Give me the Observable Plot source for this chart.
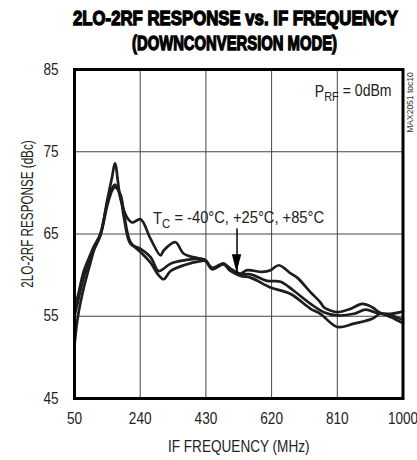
<!DOCTYPE html>
<html>
<head>
<meta charset="utf-8">
<script src="https://cdn.jsdelivr.net/npm/d3@7"></script>
<script src="https://cdn.jsdelivr.net/npm/@observablehq/plot@0.6"></script>
<style>
  html, body { margin: 0; padding: 0; background: #fff; }
  body { width: 417px; height: 460px; overflow: hidden; font-family: "Liberation Sans", Arial, sans-serif; }
  #title { position: relative; height: 50px; font-family: "Liberation Sans", Arial, sans-serif; font-weight: bold;
    font-size: 20px; color: #000; -webkit-text-stroke: 1.3px #000; }
  #title span { position: absolute; white-space: nowrap; transform-origin: 0 0; line-height: 20px; }
  #chart svg { display: block; }
</style>
</head>
<body>
<div id="title"><span id="t1">2LO-2RF RESPONSE vs. IF FREQUENCY</span><span id="t2">(DOWNCONVERSION MODE)</span></div>
<div id="chart"></div>
<script>
// ---- data ----
const xTicks = [50, 240, 430, 620, 810, 1000];
const yTicks = [45, 55, 65, 75, 85];

// upper curve (highest peak)
const freqA = [50, 60, 77, 96, 106, 125, 145, 159, 167, 183, 202, 217, 241, 270, 299, 308, 342, 366, 414, 429, 448, 481, 501, 530, 549, 593, 617, 641, 675, 694, 733, 761, 771, 790, 810, 848, 882, 911, 935, 964, 993, 1000];
const respA = [56, 57.5, 60.5, 62.5, 63.5, 65, 69.2, 72, 73.6, 69.3, 67, 66.4, 66.8, 64.4, 62.4, 63, 64, 62.6, 62, 61.8, 60.9, 61.4, 60.8, 60.2, 60.6, 60.4, 60.6, 61.2, 60.2, 59.7, 57.9, 56.7, 56.1, 55.7, 55.5, 55.9, 56.5, 56.1, 55.4, 55.3, 55.5, 55.6];

// middle curve
const freqB = [50, 60, 77, 96, 106, 125, 145, 159, 167, 183, 193, 212, 241, 270, 293, 308, 328, 366, 414, 429, 448, 481, 501, 530, 559, 607, 646, 684, 733, 771, 810, 858, 892, 925, 964, 993, 1000];
const respB = [55, 56.8, 59.8, 62, 63.3, 65, 68.8, 70.6, 71, 69.5, 67, 63.8, 63.2, 62.2, 60.5, 60.8, 61.4, 61.8, 62, 61.8, 60.8, 61.4, 60.6, 60.1, 60.1, 59.3, 59.2, 58.1, 56.5, 55.5, 55.1, 55.3, 55.8, 55.4, 55.1, 54.7, 54.6];

// lowest curve
const freqC = [50, 60, 77, 96, 106, 125, 145, 159, 167, 183, 193, 212, 241, 270, 293, 308, 328, 366, 414, 429, 448, 481, 501, 530, 559, 617, 675, 733, 761, 810, 858, 911, 935, 964, 993, 1000];
const respC = [51.5, 55, 58.5, 61.5, 63, 64.8, 68.5, 70.3, 70.7, 69.8, 67.5, 64, 62.8, 61.5, 60, 59.5, 60.5, 61.2, 61.7, 61.7, 60.7, 61.3, 60.5, 59.9, 59.7, 58.5, 57.7, 55.9, 55.3, 53.7, 54.1, 54.7, 55.3, 54.9, 54.3, 54.2];

const seriesNames = ["A", "B", "C"];
const rows = [];
[[freqA, respA], [freqB, respB], [freqC, respC]].forEach(([fs, rs], i) => {
  fs.forEach((f, j) => rows.push({series: seriesNames[i], f, r: rs[j]}));
});

// ---- title layout: condense each line to the reference width ----
function fitLine(id, left, right, top) {
  const el = document.getElementById(id);
  const w = el.getBoundingClientRect().width;
  const s = (right - left) / w;
  el.style.left = left + "px";
  el.style.top = top + "px";
  el.style.transform = `scale(${s}, 1)`;
}
fitLine("t1", 72.5, 397.5, 8);
fitLine("t2", 132, 337, 33);

const font = '"Liberation Sans", Arial, sans-serif';

const plot = Plot.plot({
  width: 417,
  height: 410,
  marginTop: 19,
  marginBottom: 62,
  marginLeft: 74,
  marginRight: 14.5,
  style: {fontFamily: font, fontSize: "16px", color: "#222", background: "#fff"},
  x: {domain: [50, 1000], ticks: xTicks, label: null},
  y: {domain: [45, 85], ticks: yTicks, label: null},
  marks: [
    Plot.gridX(xTicks, {stroke: "#444", strokeOpacity: 1, strokeWidth: 1}),
    Plot.gridY(yTicks, {stroke: "#444", strokeOpacity: 1, strokeWidth: 1}),
    Plot.axisX(xTicks, {tickSize: 0, tickPadding: 14, fontSize: 16, fill: "#222", tickFormat: d => String(d)}),
    Plot.axisY(yTicks, {tickSize: 0, tickPadding: 16, fontSize: 16, fill: "#222", tickFormat: d => String(d)}),
    Plot.line(rows, {x: "f", y: "r", z: "series", stroke: "#1e1e1e", strokeWidth: 2.7, curve: "catmull-rom"}),
    Plot.frame({stroke: "#000", strokeWidth: 3}),
    // annotations
    Plot.text(["P_RF = 0dBm"], {x: 967, y: 82.3, text: d => d, textAnchor: "end", fontSize: 16, fill: "#222"}),
    Plot.text(["T_C = -40°C, +25°C, +85°C"], {x: 277, y: 66.8, text: d => d, textAnchor: "start", fontSize: 16, fill: "#222"}),
    Plot.arrow([{x1: 520, y1: 65.6, x2: 520, y2: 60.3}], {x1: "x1", y1: "y1", x2: "x2", y2: "y2", stroke: "#000", strokeWidth: 1.5, headLength: 0, inset: 0}),
    Plot.text(["IF FREQUENCY (MHz)"], {frameAnchor: "bottom", dy: 48, textAnchor: "middle", lineAnchor: "middle", text: d => d, fontSize: 16, fill: "#222"}),
    Plot.text(["2LO-2RF RESPONSE (dBc)"], {frameAnchor: "left", dx: -47, dy: -20, rotate: -90, textAnchor: "middle", lineAnchor: "middle", text: d => d, fontSize: 16, fill: "#222"}),
    Plot.text(["MAX2051 toc10"], {frameAnchor: "top-right", dx: 7, dy: 33, rotate: -90, textAnchor: "middle", lineAnchor: "middle", text: d => d, fontSize: 9.5, fill: "#333"})
  ]
});
document.getElementById("chart").appendChild(plot);

const svg = d3.select(plot);
// subscripts
svg.selectAll("text").each(function() {
  const txt = this.textContent;
  const m = /^([A-Z])_([A-Z]+)(.*)$/.exec(txt);
  if (m) {
    const tgt = this.querySelector("tspan") ? d3.select(this.querySelector("tspan")) : d3.select(this);
    tgt.text(null);
    tgt.append("tspan").text(m[1]);
    tgt.append("tspan").attr("dy", "0.3em").attr("font-size", "12.5px").text(m[2]);
    tgt.append("tspan").attr("dy", "-0.3em").text(m[3]);
  }
});
// condense all chart text (narrow sans look), keeping each text's anchor fixed
function condenseFactor(t) {
  if (t.startsWith("MAX")) return 0.9;
  if (t.startsWith("2LO")) return 0.73;
  if (t.startsWith("TC")) return 0.92;
  if (t.startsWith("PRF")) return 0.88;
  return 0.85;
}
svg.selectAll("text").each(function() {
  const s = condenseFactor(this.textContent);
  const bb = this.getBBox();
  const anchor = getComputedStyle(this).textAnchor;
  const ax = anchor === "middle" ? bb.x + bb.width / 2 : anchor === "end" ? bb.x + bb.width : bb.x;
  const old = this.getAttribute("transform") || "";
  this.setAttribute("transform", `${old} translate(${ax},0) scale(${s},1) translate(${-ax},0)`);
});
// arrowhead at the arrow tip, positioned through the scales
const xs = plot.scale("x"), ys = plot.scale("y");
const ax = xs.apply(520), ay = ys.apply(60.3);
svg.append("path")
  .attr("d", `M${ax},${ay}l-4.7,-18h9.4z`)
  .attr("fill", "#000");
</script>
</body>
</html>
